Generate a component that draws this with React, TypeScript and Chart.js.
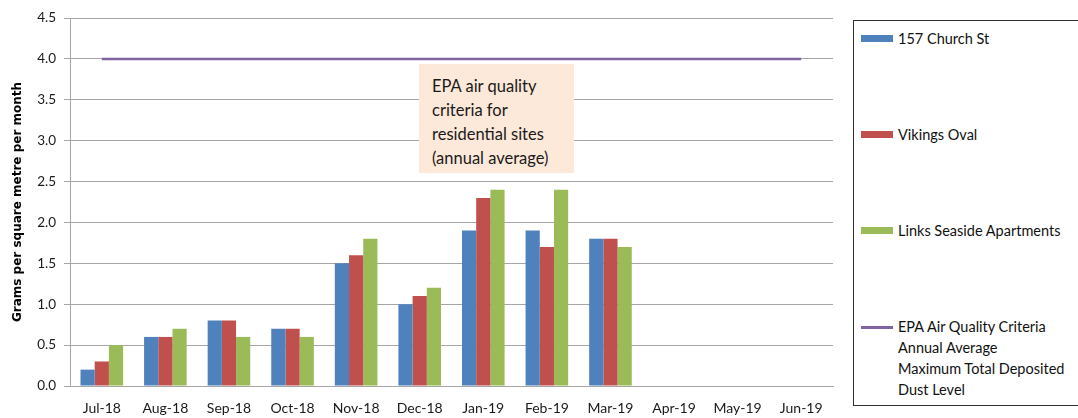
import React, { useEffect, useRef } from "react";
import { Chart, registerables } from "chart.js";

Chart.register(...registerables);

const categories = ["Jul-18", "Aug-18", "Sep-18", "Oct-18", "Nov-18", "Dec-18", "Jan-19", "Feb-19", "Mar-19", "Apr-19", "May-19", "Jun-19"];
const churchSt = [0.2, 0.6, 0.8, 0.7, 1.5, 1.0, 1.9, 1.9, 1.8, null, null, null];
const vikingsOval = [0.3, 0.6, 0.8, 0.7, 1.6, 1.1, 2.3, 1.7, 1.8, null, null, null];
const linksSeaside = [0.5, 0.7, 0.6, 0.6, 1.8, 1.2, 2.4, 2.4, 1.7, null, null, null];
const epaCriteria = [4.0, 4.0, 4.0, 4.0, 4.0, 4.0, 4.0, 4.0, 4.0, 4.0, 4.0, 4.0];

const seriesNames = ["157 Church St", "Vikings Oval", "Links Seaside Apartments"];
const lineLegend = ["EPA Air Quality Criteria", "Annual Average", "Maximum Total Deposited", "Dust Level"];
const annotationLines = ["EPA air quality", "criteria for", "residential sites", "(annual average)"];
const yTitle = "Grams per square metre per month";

const BLUE = "#4f81bd";
const RED = "#c0504d";
const GREEN = "#9bbb59";
const PURPLE = "#8064a2";
const GRID = "#a6a6a6";
const FONT = "Lato, 'Open Sans', sans-serif";

export default function App() {
  const ref = useRef<HTMLCanvasElement | null>(null);

  useEffect(() => {
    if (!ref.current) return;
    const chart = new Chart(ref.current, {
      type: "bar",
      data: {
        labels: categories,
        datasets: [
          { type: "line", label: lineLegend.join(" "), data: epaCriteria, borderColor: PURPLE, borderWidth: 2.5, pointRadius: 0, fill: false, order: 0 } as any,
          { label: seriesNames[0], data: churchSt, backgroundColor: BLUE, categoryPercentage: 0.67, barPercentage: 1, order: 1 },
          { label: seriesNames[1], data: vikingsOval, backgroundColor: RED, categoryPercentage: 0.67, barPercentage: 1, order: 1 },
          { label: seriesNames[2], data: linksSeaside, backgroundColor: GREEN, categoryPercentage: 0.67, barPercentage: 1, order: 1 },
        ],
      },
      options: {
        responsive: false,
        animation: false,
        layout: { padding: { left: 8, right: 12, top: 18, bottom: 0 } },
        plugins: { legend: { display: false }, tooltip: { enabled: false } },
        scales: {
          x: {
            grid: { display: false, drawTicks: false },
            border: { display: true, color: GRID, width: 1 },
            ticks: { color: "#1a1a1a", font: { family: FONT, size: 14 }, padding: 14, maxRotation: 0, autoSkip: false },
            afterFit: (s: any) => { s.height = 32; },
          },
          y: {
            min: 0,
            max: 4.5,
            ticks: { stepSize: 0.5, color: "#1a1a1a", font: { family: FONT, size: 13.5 }, padding: 8, callback: (v: any) => Number(v).toFixed(1) },
            grid: { color: GRID, lineWidth: 1, tickLength: 6, drawTicks: true },
            border: { display: true, color: GRID, width: 1 },
            title: { display: true, text: yTitle, color: "#000", font: { family: "'DejaVu Sans', sans-serif", size: 12, weight: "bold" }, padding: { top: 3, bottom: 2 } },
            afterFit: (s: any) => { s.width = 62; },
          },
        },
      },
    });
    return () => chart.destroy();
  }, []);

  const legendText: React.CSSProperties = { fontFamily: FONT, fontSize: 14.5, color: "#111", lineHeight: "21px" };

  return (
    <div style={{ position: "fixed", left: 0, top: 0, width: 1078, height: 418, overflow: "hidden", background: "#fff" }}>
      <canvas ref={ref} width={845} height={418} style={{ position: "absolute", left: 0, top: 0 }} />
      <div style={{ position: "absolute", left: 419, top: 64, width: 155, height: 109, background: "#fde9d9", boxSizing: "border-box", padding: "10px 0 0 13px" }}>
        {annotationLines.map((t, i) => (
          <div key={i} style={{ fontFamily: FONT, fontSize: 16.5, lineHeight: "24px", color: "#1a1a1a", whiteSpace: "nowrap" }}>{t}</div>
        ))}
      </div>
      <div style={{ position: "absolute", left: 853, top: 20, width: 260, height: 386, border: "1px solid #333", boxSizing: "border-box" }}>
        {[BLUE, RED, GREEN].map((c, i) => (
          <div key={i} style={{ position: "absolute", left: 7, top: 7 + i * 96, display: "flex", alignItems: "center" }}>
            <div style={{ width: 32, height: 7, background: c, marginRight: 5 }} />
            <span style={{ ...legendText, whiteSpace: "nowrap" }}>{seriesNames[i]}</span>
          </div>
        ))}
        <div style={{ position: "absolute", left: 7, top: 295, display: "flex", alignItems: "flex-start" }}>
          <div style={{ width: 32, height: 2.5, background: PURPLE, marginRight: 5, marginTop: 10 }} />
          <div>
            {lineLegend.map((t, i) => (
              <div key={i} style={{ ...legendText, whiteSpace: "nowrap" }}>{t}</div>
            ))}
          </div>
        </div>
      </div>
    </div>
  );
}
